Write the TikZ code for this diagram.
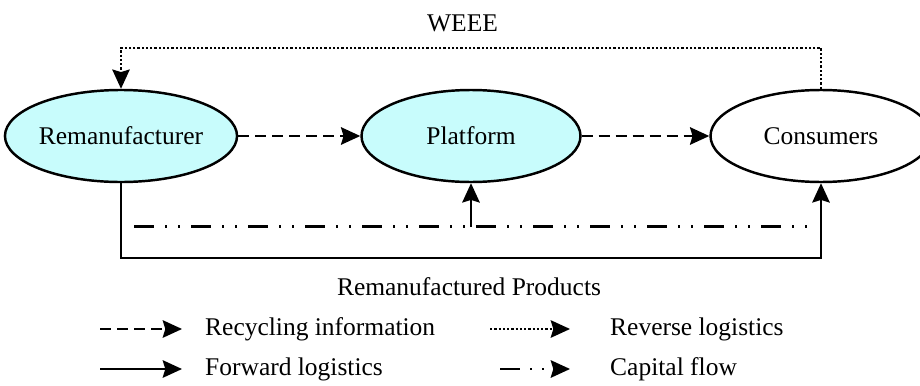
\documentclass[tikz,border=0pt]{standalone}
\usepackage{fontspec}
\setmainfont{Liberation Serif}
\usetikzlibrary{arrows.meta,shapes.geometric}
\definecolor{paleCyan}{RGB}{200,252,252}
\tikzset{
  party/.style={ellipse, draw, line width=1.4pt, inner sep=0pt,
    minimum width=4.42cm, minimum height=1.84cm},
  arr/.style={line width=1.1pt, -{Stealth[length=11pt,width=10pt,inset=1.5pt]}},
  recflow/.style={arr, dash pattern=on 0.22cm off 0.12cm},
  fwdflow/.style={arr},
  revflow/.style={arr, line width=1pt, dash pattern=on 0.045cm off 0.04cm},
  capflow/.style={line width=1.3pt,
    dash pattern=on 0.4cm off 0.22cm on 0.04cm off 0.22cm on 0.04cm off 0.22cm},
  lbl/.style={font=\fontsize{14.5}{17}\selectfont}
}
\begin{document}
\begin{tikzpicture}
\useasboundingbox (0,0) rectangle (18.4,7.7);

% the three parties
\node[party, fill=paleCyan, lbl] (rem) at (2.42,4.98) {Remanufacturer};
\node[party, fill=paleCyan, lbl, minimum width=4.38cm] (plat) at (9.42,4.98) {Platform};
\node[party, lbl] (cons) at (16.42,4.98) {Consumers};

% recycling information
\draw[recflow] (rem.east) -- (plat.west);
\draw[recflow] (plat.east) -- (cons.west);

% reverse logistics
\draw[revflow] (cons.north) -- ++(0,0.82) -| (rem.north);
\node[lbl] (weee) at (9.25,7.24) {WEEE};

% forward logistics
\draw[fwdflow] (rem.south) -- ++(0,-1.5) -| (cons.south);
\node[lbl] (prod) at (9.38,1.96) {Remanufactured Products};

% capital flow
\coordinate (capL) at (2.68,3.17);
\coordinate (capR) at (16.32,3.17);
\coordinate (capM) at (plat.south |- capL);
\draw[capflow] (capL) -- (capR);
\draw[fwdflow] (capM) -- (plat.south);

% legend
\coordinate (l1a) at (2.0,1.12);
\coordinate (l1b) at (3.64,1.12);
\coordinate (l2a) at (2.0,0.32);
\coordinate (l2b) at (3.64,0.32);
\coordinate (l3a) at (9.8,1.12);
\coordinate (l3b) at (11.4,1.12);
\coordinate (l4a) at (10.0,0.32);
\coordinate (l4b) at (11.4,0.32);
\draw[recflow] (l1a) -- (l1b);
\draw[fwdflow] (l2a) -- (l2b);
\draw[revflow] (l3a) -- (l3b);
\draw[arr, dash pattern=on 0.4cm off 0.2cm on 0.04cm off 0.2cm on 0.04cm off 0.2cm] (l4a) -- (l4b);
\node[lbl, anchor=west] (t1) at (3.98,1.12) {Recycling information};
\node[lbl, anchor=west] (t2) at (3.98,0.32) {Forward logistics};
\node[lbl, anchor=west] (t3) at (12.08,1.12) {Reverse logistics};
\node[lbl, anchor=west] (t4) at (12.08,0.32) {Capital flow};
\end{tikzpicture}
\end{document}
